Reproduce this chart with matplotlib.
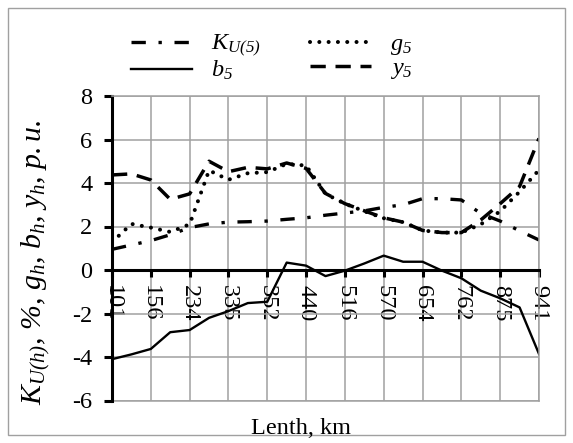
import numpy as np
import matplotlib
matplotlib.use("Agg")
import matplotlib.pyplot as plt
from matplotlib.patches import Rectangle

# Data (23 points, every second one labelled)
tick_labels = ['101', '156', '234', '335', '352', '440', '516', '570', '654', '762', '875', '941']

K_U5 = [0.95, 1.15, 1.35, 1.62, 1.95, 2.12, 2.2, 2.22, 2.25, 2.33, 2.4, 2.52,
        2.62, 2.72, 2.88, 3.0, 3.28, 3.28, 3.22, 2.6, 2.25, 1.8, 1.38]
g5 = [1.28, 2.12, 1.95, 1.75, 2.1, 4.58, 4.15, 4.45, 4.5, 4.88, 4.8, 3.5,
      3.05, 2.7, 2.38, 2.2, 1.82, 1.72, 1.72, 2.1, 2.7, 3.6, 4.6]
b5 = [-4.1, -3.88, -3.63, -2.86, -2.76, -2.2, -1.89, -1.52, -1.46, 0.34, 0.2, -0.28,
      -0.03, 0.3, 0.66, 0.38, 0.38, -0.03, -0.38, -0.95, -1.3, -1.72, -3.86]
y5 = [4.37, 4.42, 4.14, 3.25, 3.5, 5.0, 4.52, 4.72, 4.65, 4.92, 4.67, 3.52,
      3.05, 2.72, 2.4, 2.2, 1.82, 1.72, 1.72, 2.3, 3.05, 3.84, 6.05]

plt.rcParams['font.family'] = 'Liberation Serif'
plt.rcParams['mathtext.fontset'] = 'custom'
plt.rcParams['mathtext.rm'] = 'Liberation Serif:italic'
plt.rcParams['mathtext.it'] = 'Liberation Serif:italic'
plt.rcParams['axes.unicode_minus'] = False

grid_col = '#a0a0a0'
fs = 17.5

fig = plt.figure(figsize=(5.73, 4.43), dpi=100)
ax = fig.add_axes([112/573, 1 - 400.5/443, (539 - 112)/573, (400.5 - 96)/443])

x = np.arange(len(b5))

l_k, = ax.plot(x, K_U5, color='black', lw=2.4, linestyle=(0, (4.3, 3.8, 1, 3.8)),
               dash_capstyle='butt', label=r'$K_{U(5)}$')
l_b, = ax.plot(x, b5, color='black', lw=1.7, label=r'$b_{5}$')
l_g, = ax.plot(x, g5, color='black', lw=2.9, linestyle=(0, (0.01, 2.3)),
               dash_capstyle='round', label=r'$g_{5}$')
l_y, = ax.plot(x, y5, color='black', lw=2.5, linestyle=(0, (4.4, 2.8)),
               dash_capstyle='butt', label=r'$y_{5}$')

ax.set_xlim(0, len(b5) - 1)
ax.set_ylim(-6, 8)
ax.set_xticks(x[::2])
ax.set_xticklabels(tick_labels)
ax.set_yticks(np.arange(-6, 9, 2))

ax.grid(True, color=grid_col, lw=1.1)
ax.set_axisbelow(True)
ax.axhline(-6, color=grid_col, lw=1.1, clip_on=False, zorder=0.5)

ax.spines['left'].set_linewidth(2.2)
ax.spines['bottom'].set_position(('data', 0))
ax.spines['bottom'].set_linewidth(2.2)
for s in ['top', 'right']:
    ax.spines[s].set_color(grid_col)
    ax.spines[s].set_linewidth(1.1)

ax.tick_params(axis='y', direction='out', length=6, width=2.2, pad=8, labelsize=fs)
ax.tick_params(axis='x', direction='out', length=5, width=2.2, pad=6, labelsize=fs,
               labelrotation=-90)

fig.text(36/573, 1 - 262/443, r'$K_{U(h)}$, %, $g_h$, $b_h$, $y_h$, $p.u.$',
         rotation=90, ha='center', va='center', fontsize=21.5, style='italic')
fig.text(301/573, 1 - 428/443, 'Lenth, km', ha='center', va='center', fontsize=fs)

fig.legend(handles=[l_k, l_b, l_g, l_y], ncol=2, loc='upper left',
           bbox_to_anchor=(131/573, 1 - 33/443), frameon=False, fontsize=fs,
           handlelength=2.5, handletextpad=0.8, columnspacing=2.0,
           labelspacing=0.0, borderpad=0, borderaxespad=0)

fig.patches.append(Rectangle((8/573, 1 - 435/443), (565 - 8)/573, (435 - 8)/443,
                             transform=fig.transFigure, fill=False,
                             edgecolor=grid_col, lw=1))

fig.savefig("out.png", dpi=100)
